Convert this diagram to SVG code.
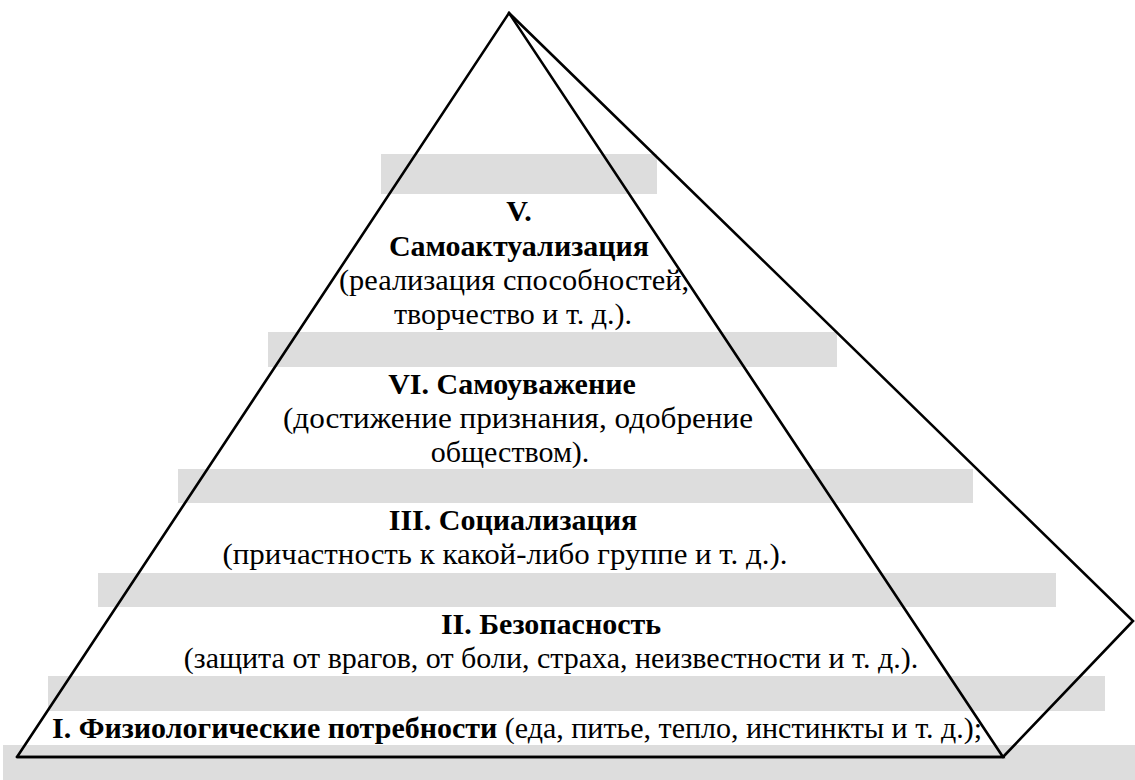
<svg xmlns="http://www.w3.org/2000/svg" width="1135" height="780" viewBox="0 0 1135 780">
<style>
.bar{fill:#dddddd}
.edge{fill:none;stroke:#000;stroke-width:2.6;stroke-linejoin:miter;stroke-linecap:round}
.t{font-family:"Liberation Serif","Times New Roman",serif;font-size:30px;fill:#000}
.b{font-weight:bold}
.c{text-anchor:middle}
</style>
<rect width="1135" height="780" fill="#fff"/>
<g id="bars">
<rect class="bar" x="381" y="154" width="276" height="40"/>
<rect class="bar" x="268" y="332" width="569" height="35"/>
<rect class="bar" x="178" y="469" width="795" height="34"/>
<rect class="bar" x="98" y="573" width="958" height="34"/>
<rect class="bar" x="48" y="676" width="1057" height="35"/>
<rect class="bar" x="3" y="745" width="1132" height="35"/>
</g>
<g id="connectors">
<polyline class="edge" points="17,757 509,13 1003,757 17,757"/>
<polyline class="edge" points="509,13 1133,621 1003,757"/>
<line class="edge" x1="17" y1="757" x2="1003" y2="757" stroke-width="3.2"/>
</g>
<g class="t">
<g id="level5">
<text class="b c" x="519" y="221">V.</text>
<text class="b c" x="519" y="256">Самоактуализация</text>
<text class="c" x="514" y="290" textLength="350" lengthAdjust="spacingAndGlyphs">(реализация способностей,</text>
<text class="c" x="513" y="324">творчество и т. д.).</text>
</g>
<g id="level4">
<text class="b c" x="512" y="394">VI. Самоуважение</text>
<text class="c" x="518" y="428" textLength="470" lengthAdjust="spacingAndGlyphs">(достижение признания, одобрение</text>
<text class="c" x="510" y="462">обществом).</text>
</g>
<g id="level3">
<text class="b c" x="513" y="530">III. Социализация</text>
<text class="c" x="505" y="564" textLength="565" lengthAdjust="spacingAndGlyphs">(причастность к какой-либо группе и т. д.).</text>
</g>
<g id="level2">
<text class="b c" x="551" y="634">II. Безопасность</text>
<text class="c" x="551" y="668">(защита от врагов, от боли, страха, неизвестности и т. д.).</text>
</g>
<g id="level1">
<text x="52" y="738"><tspan class="b">I. Физиологические потребности</tspan> (еда, питье, тепло, инстинкты и т. д.);</text>
</g>
</g>
</svg>
